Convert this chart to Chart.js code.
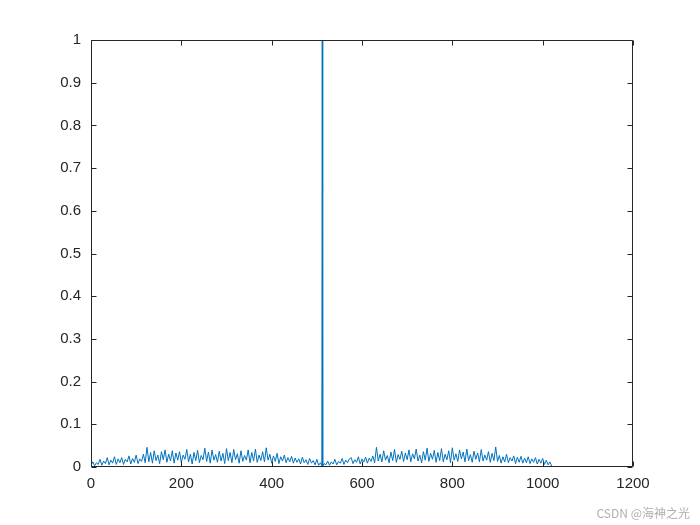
<!DOCTYPE html>
<html>
<head>
<meta charset="utf-8">
<script src="https://cdn.jsdelivr.net/npm/chart.js@4"></script>
<style>
  html, body { margin: 0; padding: 0; background: #fff; }
  #wrap { position: relative; width: 700px; height: 525px; }
  #mark { position: absolute; right: 10px; top: 504px; font: 12px "Noto Sans CJK SC", "Liberation Sans", sans-serif; color: #b0b0b0; }
</style>
</head>
<body>
<div id="wrap">
  <canvas id="c" width="700" height="525"></canvas>
  <div id="mark">CSDN @海神之光</div>
</div>
<script>
// sample spacing along the lag axis (every 4th lag)
const step = 4;

// correlation values, lags 0..508
const corrLeft = [
  0.004,0.012,0.003,0.010,0.006,0.018,0.004,0.014,0.008,0.022,0.005,0.016,0.009,0.024,0.006,0.019,
  0.010,0.022,0.006,0.018,0.012,0.026,0.007,0.020,0.011,0.028,0.008,0.019,0.013,0.030,0.010,0.046,
  0.012,0.034,0.009,0.038,0.015,0.028,0.008,0.036,0.017,0.040,0.011,0.030,0.014,0.038,0.009,0.033,
  0.016,0.036,0.010,0.028,0.018,0.041,0.012,0.030,0.007,0.034,0.015,0.039,0.010,0.027,0.017,0.044,
  0.013,0.035,0.009,0.040,0.016,0.029,0.011,0.037,0.014,0.032,0.008,0.043,0.015,0.034,0.010,0.041,
  0.017,0.031,0.009,0.038,0.013,0.027,0.016,0.040,0.010,0.034,0.014,0.042,0.011,0.028,0.015,0.036,
  0.012,0.045,0.016,0.030,0.009,0.026,0.013,0.032,0.008,0.024,0.014,0.028,0.010,0.022,0.012,0.025,
  0.009,0.021,0.011,0.019,0.007,0.023,0.010,0.017,0.006,0.020,0.009,0.015,0.005,0.018,0.004,0.010
];

// the main peak and its immediate neighbours
const peakLags = [511, 512, 513];
const peakVals = [0.003, 1.000, 0.002];

// correlation values, lags 516..1020
const corrRight = [
  0.008,0.005,0.014,0.004,0.012,0.007,0.018,0.005,0.013,0.009,0.020,0.006,0.016,0.010,0.019,
  0.022,0.008,0.017,0.011,0.024,0.007,0.019,0.012,0.023,0.009,0.021,0.013,0.026,0.010,0.046,0.014,
  0.030,0.012,0.038,0.016,0.027,0.010,0.035,0.015,0.041,0.011,0.029,0.018,0.037,0.013,0.033,0.017,
  0.040,0.012,0.031,0.019,0.042,0.014,0.028,0.010,0.036,0.016,0.044,0.013,0.032,0.018,0.039,0.011,
  0.034,0.015,0.043,0.012,0.030,0.017,0.038,0.010,0.045,0.016,0.031,0.013,0.040,0.019,0.035,0.012,
  0.042,0.015,0.029,0.011,0.037,0.018,0.033,0.012,0.041,0.014,0.028,0.016,0.036,0.011,0.032,0.015,
  0.047,0.013,0.027,0.009,0.024,0.012,0.030,0.010,0.022,0.014,0.026,0.008,0.023,0.011,0.025,0.009,
  0.021,0.010,0.024,0.008,0.019,0.011,0.022,0.007,0.018,0.009,0.020,0.006,0.016,0.005,0.012,0.002
];

// axis ticks
const xTicks = [0, 200, 400, 600, 800, 1000, 1200];
const yTicks = [0, 0.1, 0.2, 0.3, 0.4, 0.5, 0.6, 0.7, 0.8, 0.9, 1];

const rightStart = 516;
const points = [
  ...corrLeft.map((v, i) => ({ x: i * step, y: v })),
  ...peakVals.map((v, i) => ({ x: peakLags[i], y: v })),
  ...corrRight.map((v, i) => ({ x: rightStart + i * step, y: v }))
];

const axisColor = '#262626';
const font = { family: '"Liberation Sans", Arial, sans-serif', size: 15 };

// MATLAB style box with inward ticks on all four sides
const boxPlugin = {
  id: 'box',
  afterDraw(chart) {
    const c = chart.ctx, a = chart.chartArea;
    const xs = chart.scales.x, ys = chart.scales.y;
    const L = Math.round(a.left) + 0.5, R = Math.round(a.right) - 0.5;
    const T = Math.round(a.top) + 0.5, B = Math.round(a.bottom) - 0.5;
    const len = 5;
    c.save();
    c.strokeStyle = axisColor;
    c.lineWidth = 1;
    c.beginPath();
    c.rect(L, T, R - L, B - T);
    xTicks.forEach(v => {
      const px = Math.round(xs.getPixelForValue(v)) + 0.5;
      c.moveTo(px, B); c.lineTo(px, B - len);
      c.moveTo(px, T); c.lineTo(px, T + len);
    });
    yTicks.forEach(v => {
      const py = Math.round(ys.getPixelForValue(v)) + 0.5;
      c.moveTo(L, py); c.lineTo(L + len, py);
      c.moveTo(R, py); c.lineTo(R - len, py);
    });
    c.stroke();
    c.restore();
  }
};

new Chart(document.getElementById('c'), {
  type: 'line',
  data: {
    datasets: [{
      data: points,
      borderColor: '#0072BD',
      borderWidth: 1,
      pointRadius: 0,
      tension: 0,
      fill: false
    }]
  },
  options: {
    responsive: false,
    animation: false,
    layout: { padding: { top: 40, right: 67, left: 0, bottom: 0 } },
    plugins: { legend: { display: false }, tooltip: { enabled: false } },
    scales: {
      x: {
        type: 'linear', min: 0, max: 1200,
        afterBuildTicks: s => { s.ticks = xTicks.map(v => ({ value: v })); },
        afterFit: s => { s.height = 58; },
        grid: { display: false, drawTicks: false },
        border: { display: false },
        ticks: { color: axisColor, font: font, padding: 8, maxRotation: 0, callback: v => String(v) }
      },
      y: {
        min: 0, max: 1,
        afterBuildTicks: s => { s.ticks = yTicks.map(v => ({ value: v })); },
        afterFit: s => { s.width = 91; },
        grid: { display: false, drawTicks: false },
        border: { display: false },
        ticks: { color: axisColor, font: font, padding: 10, callback: v => String(v) }
      }
    }
  },
  plugins: [boxPlugin]
});
</script>
</body>
</html>
